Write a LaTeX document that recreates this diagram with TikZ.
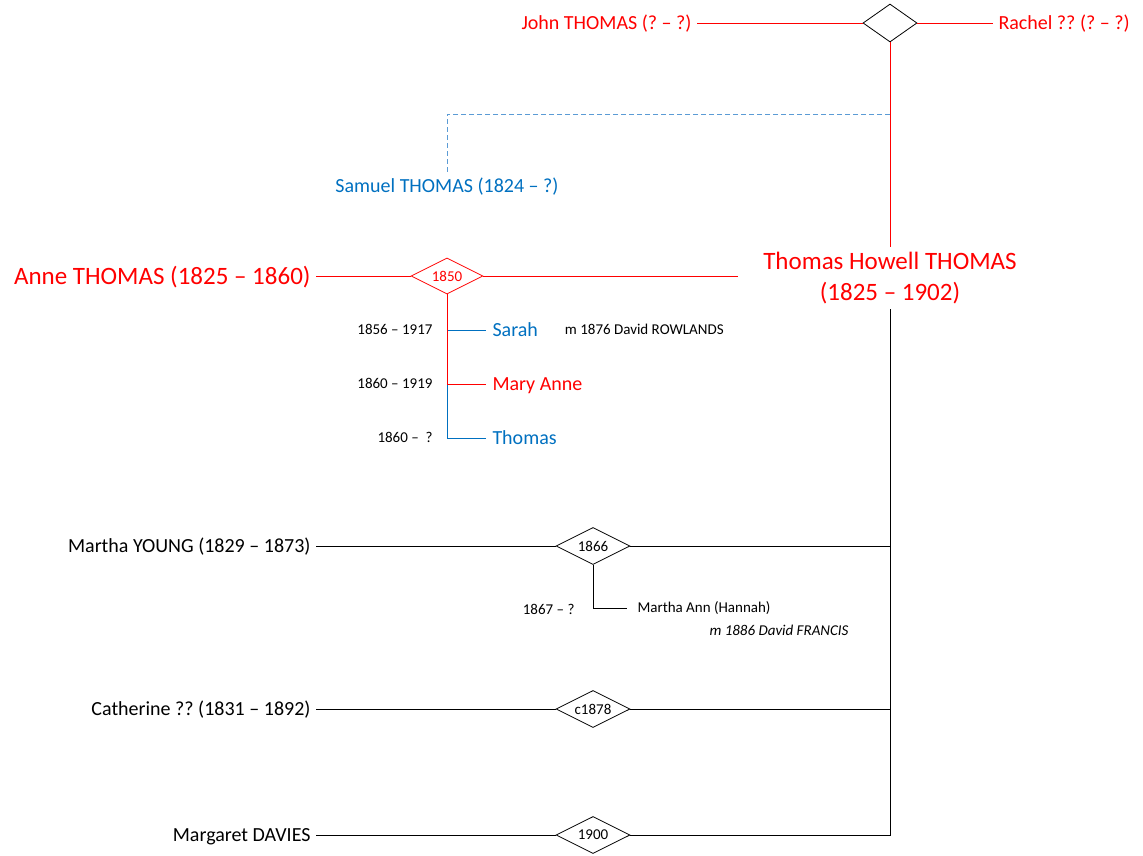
\documentclass[tikz,border=0pt]{standalone}
\usepackage{fontspec}
\setmainfont{Carlito}
\usetikzlibrary{shapes.geometric,positioning}

\definecolor{famred}{RGB}{255,0,0}
\definecolor{famblue}{RGB}{0,112,192}
\definecolor{halfblue}{RGB}{91,155,213}

\tikzset{
  spouse/.style={font=\fontsize{20}{24}\selectfont, inner sep=5pt, text height=16pt, text depth=3.1pt},
  bigname/.style={font=\fontsize{25}{31}\selectfont, inner sep=5pt, align=center},
  bigline/.style={font=\fontsize{25}{31}\selectfont, inner sep=5pt, text height=19pt, text depth=2.9pt},
  kidname/.style={font=\fontsize{20}{24}\selectfont, anchor=west, inner sep=6pt, text height=16pt, text depth=3.1pt},
  smalltext/.style={font=\fontsize{15}{18}\selectfont, inner sep=3pt, text height=11.7pt, text depth=2pt},
  wedding/.style={diamond, draw, aspect=2, minimum width=74pt, minimum height=37pt,
    inner sep=0pt, line width=0.8pt, font=\fontsize{15}{18}\selectfont},
}

\begin{document}
\frenchspacing
\begin{tikzpicture}[x=1pt, y=-1pt, line width=1pt]
  \useasboundingbox (0,0) rectangle (1143,855);

  % parents
  \node[wedding, minimum width=54pt, minimum height=38pt] (dtop) at (890,23) {};
  \node[spouse, famred, anchor=east] (john) at (697,23) {John THOMAS (? -- ?)};
  \node[spouse, famred, anchor=west] (rachel) at (993,23) {Rachel ?? (? -- ?)};
  \draw[famred] (john) -- (dtop);
  \draw[famred] (dtop) -- (rachel);

  % Thomas Howell and his brother
  \node[bigname, famred] (th) at (890,278) {Thomas Howell THOMAS\\(1825 -- 1902)};
  \draw[famred] (dtop.south) -- (th.north);
  \coordinate (sib) at (890,114);
  \node[spouse, famblue, inner sep=3pt] (samuel) at (447,186) {Samuel THOMAS (1824 -- ?)};
  \draw[halfblue, dash pattern=on 5pt off 3pt] (sib) -| (samuel.north);

  % first marriage
  \node[wedding, famred, minimum width=72pt, minimum height=36pt] (d1850) at (447,276) {1850};
  \node[bigline, famred, anchor=east] (anne) at (316,276) {Anne THOMAS (1825 -- 1860)};
  \coordinate (thleft) at (738,276);
  \draw[famred] (anne) -- (d1850);
  \draw[famred] (d1850) -- (thleft);

  % children of 1850
  \node[kidname, famblue] (sarah) at (486,330) {Sarah};
  \node[kidname, famred] (mary) at (486,384) {Mary Anne};
  \node[kidname, famblue] (thomas) at (486,438) {Thomas};
  \node[smalltext, anchor=east] (sarahdates) at (436,330) {1856 -- 1917};
  \node[smalltext, anchor=east] (marydates) at (436,384) {1860 -- 1919};
  \node[smalltext, anchor=east] (thomasdates) at (436,438) {1860 --\ \ ?};
  \node[smalltext, right=17pt of sarah] (rowlands) {m 1876 David ROWLANDS};
  \draw[famblue] (d1850.south) |- (sarah.west);
  \draw[famblue] (d1850.south) |- (thomas.west);
  \draw[famred] (d1850.south) |- (mary.west);

  % later marriages
  \node[spouse, anchor=east] (martha) at (316,546) {Martha YOUNG (1829 -- 1873)};
  \node[wedding] (d1866) at (593,546) {1866};
  \node[spouse, anchor=east] (catherine) at (316,709) {Catherine ?? (1831 -- 1892)};
  \node[wedding] (d1878) at (593,709) {c1878};
  \node[spouse, anchor=east] (margaret) at (316,835) {Margaret DAVIES};
  \node[wedding] (d1900) at (593,835) {1900};
  \draw (martha) -- (d1866);
  \draw (catherine) -- (d1878);
  \draw (margaret) -- (d1900);
  \draw (th.south) -- (th.south |- d1900) -- (d1900);
  \draw (d1866) -- (th.south |- d1866);
  \draw (d1878) -- (th.south |- d1878);

  % child of 1866
  \node[smalltext, anchor=west, inner sep=10pt] (marthaann) at (627,608) {Martha Ann (Hannah)};
  \node[smalltext, anchor=east] (marthadates) at (578,610) {1867 -- ?};
  \node[smalltext, anchor=north west, font=\fontsize{15}{18}\selectfont\itshape] (francis) at (706,620) {m 1886 David FRANCIS};
  \draw (d1866.south) |- (marthaann.west);
\end{tikzpicture}
\end{document}
